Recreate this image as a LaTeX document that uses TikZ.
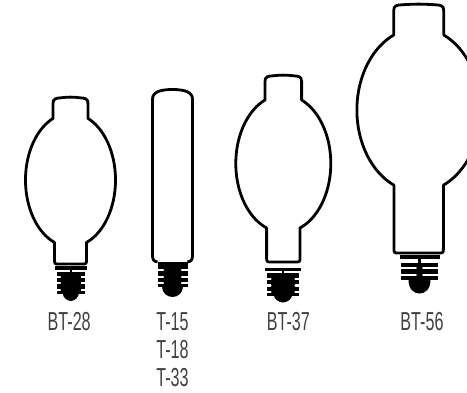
\documentclass[tikz,border=0pt]{standalone}
\usepackage{fontspec}
\newfontfamily\lblfont[FakeStretch=0.62]{Liberation Sans}

% Bulbous-tubular lamp: cx, neck top, upper neck half-width, bulb centre y,
% bulb half-width, bulb half-height, lower neck half-width, neck bottom
\newcommand\btlamp[8]{%
  \pgfmathsetmacro\yA{#4-#6*sqrt(1-(#3/#5)^2)}%
  \pgfmathsetmacro\yB{#4+#6*sqrt(1-(#7/#5)^2)}%
  \draw[outline] ({#1-#7},{\yB})
    -- plot[domain=\yB:\yA,samples=90] ({#1-#5*sqrt(max(0,1-((\x-#4)/#6)^2))},{\x})
    -- ({#1-#3},{#2+6})
    .. controls ({#1-#3},{#2+1}) and ({#1-#3+3},{#2+0.6}) .. ({#1-#3+8},{#2+0.3})
    .. controls ({#1-3},{#2-0.6}) and ({#1+3},{#2-0.6}) .. ({#1+#3-8},{#2+0.3})
    .. controls ({#1+#3-3},{#2+0.6}) and ({#1+#3},{#2+1}) .. ({#1+#3},{#2+6})
    -- ({#1+#3},{\yA})
    -- plot[domain=\yA:\yB,samples=90] ({#1+#5*sqrt(max(0,1-((\x-#4)/#6)^2))},{\x})
    -- ({#1+#7},{#8-5}) .. controls ({#1+#7},{#8}) .. ({#1+#7-5},{#8})
    -- ({#1-#7+5},{#8}) .. controls ({#1-#7},{#8}) .. ({#1-#7},{#8-5}) -- cycle;
}

% Screw base: cx, body top, body bottom, body half-width, tip bottom,
% tip half-width, groove positions, groove depth
\newcommand\screw[8]{%
  \fill[metal] ({#1-#4},{#2}) rectangle ({#1+#4},{#3});
  \fill[metal] ({#1-#6},{#3-0.5})
    .. controls ({#1-#6},{#5-4}) and ({#1-0.5*#6},{#5}) .. ({#1},{#5})
    .. controls ({#1+0.5*#6},{#5}) and ({#1+#6},{#5-4}) .. ({#1+#6},{#3-0.5}) -- cycle;
  \foreach \g in {#7} {
    \draw[groove] ({#1-#4-3},{\g}) -- ({#1-#4+#8},{\g});
    \draw[groove] ({#1+#4+3},{\g}) -- ({#1+#4-#8},{\g});
  }
}

% Collar ring above the screw: cx, top, bottom, half-width, body top
\newcommand\collar[5]{%
  \fill[metal] ({#1-#4},{#2}) rectangle ({#1+#4},{#3});
  \fill[metal] ({#1-1.2},{#3}) rectangle ({#1+1.2},{#5});
}

\begin{document}
\begin{tikzpicture}[x=1pt,y=-1pt,
  outline/.style={draw=black, line width=2.8pt, line join=round, fill=white},
  metal/.style={fill=black},
  groove/.style={draw=white, line width=2.2pt, line cap=round},
  lbl/.style={font=\lblfont\fontsize{26}{30}\selectfont, text=black!75,
              inner sep=0pt, anchor=base}]
\useasboundingbox (0,0) rectangle (467,392);
\clip (0,0) rectangle (467,392);

% BT-28
\btlamp{70.5}{97.5}{17.5}{180}{45}{66.8}{16}{264}
\collar{70.8}{266}{270}{16}{271.7}
\screw{70.8}{271.7}{294}{13.8}{301}{8}{277,283.3,289.6}{3}

% T-15 / T-18 / T-33 tube
\draw[outline] ({172.5-15},262)
  .. controls ({172.5-19.5},261.5) and ({172.5-20},259) .. ({172.5-20},254)
  -- ({172.5-20},99)
  .. controls ({172.5-20},92) and ({172.5-12},89.5) .. (172.5,89.5)
  .. controls ({172.5+12},89.5) and ({172.5+20},92) .. ({172.5+20},99)
  -- ({172.5+20},254)
  .. controls ({172.5+20},259) and ({172.5+19.5},261.5) .. ({172.5+15},262);
\screw{172.5}{262}{287}{15}{297}{10.5}{270,276.7,283.3}{5.5}

% BT-37
\btlamp{283.3}{75.5}{18.3}{163.5}{47.5}{68.8}{16.7}{262}
\collar{283}{267.7}{270.7}{18}{273.3}
\screw{283}{273.3}{296}{16}{302.5}{9}{279,285.5,292}{3.5}

% BT-56
\btlamp{418.7}{4.5}{25}{110}{61.8}{82}{24.7}{253}
\collar{419.5}{255}{259.3}{20}{262.7}
\screw{419.5}{262.7}{280}{18.3}{293.5}{11}{268.3,274.7}{14.7}

% Labels
\node[lbl] (bt28) at (69.2,330) {BT-28};
\node[lbl] (t15) at (172.5,330.5) {T-15};
\node[lbl] (t18) at (172.5,358) {T-18};
\node[lbl] (t33) at (172.5,386) {T-33};
\node[lbl] (bt37) at (288.3,330.5) {BT-37};
\node[lbl] (bt56) at (422,330) {BT-56};
\end{tikzpicture}
\end{document}
